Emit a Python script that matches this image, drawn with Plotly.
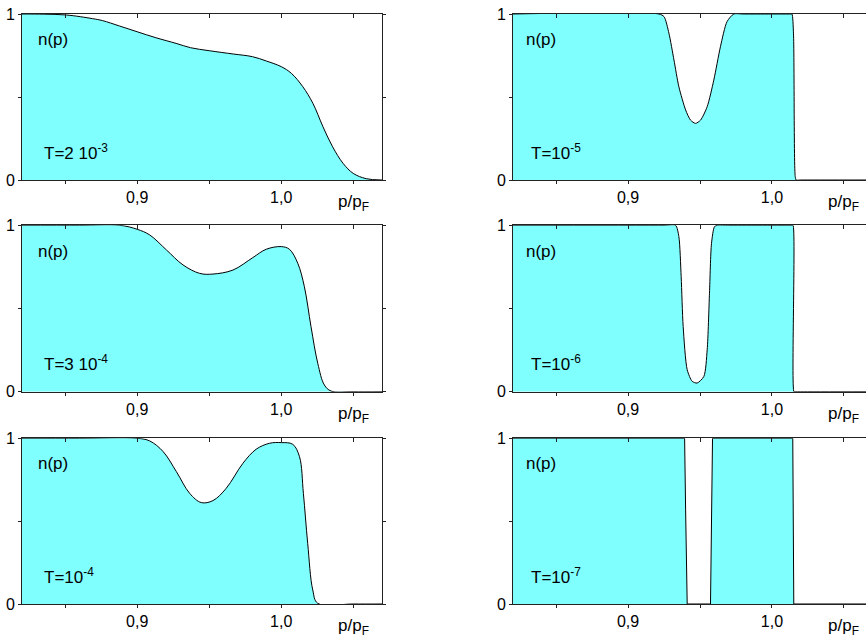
import plotly.graph_objects as go

# ---------------- data ----------------
x_t2e3 = [0.82, 0.835, 0.851, 0.869, 0.876, 0.8876, 0.9, 0.913, 0.927, 0.937, 0.95, 0.9667, 0.98,
          0.9896, 1.0, 1.007, 1.015, 1.022, 1.029, 1.0357, 1.043, 1.05, 1.059, 1.07]
n_t2e3 = [1.0, 0.999, 0.994, 0.972, 0.96, 0.928, 0.893, 0.857, 0.823, 0.797, 0.779, 0.759, 0.743,
          0.717, 0.683, 0.643, 0.562, 0.462, 0.321, 0.2, 0.1, 0.04, 0.008, 0.0]

x_t3e4 = [0.82, 0.86, 0.888, 0.9, 0.9087, 0.9203, 0.9318, 0.9434, 0.9526, 0.9665, 0.9803, 0.9896,
          1.0, 1.0057, 1.0115, 1.0161, 1.0207, 1.0254, 1.03, 1.0346, 1.05, 1.07]
n_t3e4 = [1.0, 1.0, 1.0, 0.976, 0.942, 0.852, 0.762, 0.711, 0.707, 0.731, 0.806, 0.856,
          0.872, 0.856, 0.772, 0.631, 0.391, 0.17, 0.04, 0.004, 0.0, 0.0]

x_t1e4 = [0.82, 0.86, 0.9, 0.9087, 0.918, 0.9272, 0.9364, 0.9445, 0.9526, 0.9618, 0.9734, 0.9826,
          0.9919, 1.0, 1.008, 1.0127, 1.0154, 1.0184, 1.0219, 1.0254, 1.05, 1.07]
n_t1e4 = [1.0, 1.0, 1.0, 0.984, 0.92, 0.799, 0.668, 0.612, 0.624, 0.698, 0.849, 0.934,
          0.97, 0.974, 0.964, 0.889, 0.668, 0.366, 0.085, 0.004, 0.0, 0.0]

x_t1e5 = [0.82, 0.9215, 0.925, 0.9284, 0.9319, 0.9353, 0.94, 0.9434, 0.9469, 0.9504, 0.955, 0.9596,
          0.9642, 0.9688, 0.9735, 0.98, 1.013, 1.0139, 1.015, 1.0162, 1.0169, 1.02, 1.0654]
n_t1e5 = [1.0, 1.0, 0.984, 0.884, 0.723, 0.562, 0.422, 0.361, 0.341, 0.361, 0.442, 0.602,
          0.803, 0.954, 1.0, 1.0, 1.0, 1.0, 0.88, 0.02, 0.0, 0.0, 0.0]

x_t1e6 = [0.82, 0.925, 0.933, 0.9353, 0.9369, 0.9383, 0.9411, 0.9446, 0.948, 0.9527, 0.955, 0.9566,
          0.958, 0.9601, 0.962, 0.97, 1.014, 1.0147, 1.0153, 1.016, 1.02, 1.0654]
n_t1e6 = [1.0, 1.0, 1.0, 0.932, 0.692, 0.392, 0.132, 0.062, 0.052, 0.092, 0.252, 0.592,
          0.892, 0.992, 1.0, 1.0, 1.0, 1.0, 0.0, 0.0, 0.0, 0.0]

x_t1e7 = [0.82, 0.9393, 0.94, 0.9411, 0.9573, 0.958, 0.9587, 1.0145, 1.0152, 1.0654]
n_t1e7 = [1.0, 1.0, 0.568, 0.0, 0.0, 0.568, 1.0, 1.0, 0.0, 0.0]

temp_labels = ["T=2 10<sup>-3</sup>", "T=10<sup>-5</sup>",
               "T=3 10<sup>-4</sup>", "T=10<sup>-6</sup>",
               "T=10<sup>-4</sup>", "T=10<sup>-7</sup>"]

x_major_vals = [0.9, 1.0]
x_major_text = ["0,9", "1,0"]
x_minor_vals = [0.85, 0.95, 1.05]
x_all_vals = [0.85, 0.9, 0.95, 1.0, 1.05]
y_major_vals = [0, 1]
y_major_text = ["0", "1"]
y_minor_vals = [0.5]

# ---------------- layout geometry ----------------
W, H = 866, 639
col_px = [(22, 382), (513, 866)]
row_px = [(14, 180), (225.3, 391.7), (438.3, 604)]
x_ranges = [[0.82, 1.07], [0.82, 1.0654]]

panels = [
    (x_t2e3, n_t2e3, "spline", 1.0), (x_t1e5, n_t1e5, "spline", 0.7),
    (x_t3e4, n_t3e4, "spline", 1.0), (x_t1e6, n_t1e6, "spline", 0.7),
    (x_t1e4, n_t1e4, "spline", 1.0), (x_t1e7, n_t1e7, "linear", 0),
]

FONT = "Liberation Sans, Arial, sans-serif"
AX = "#222222"

fig = go.Figure()
layout = dict(
    width=W, height=H, margin=dict(l=0, r=0, t=0, b=0, autoexpand=False),
    paper_bgcolor="white", plot_bgcolor="white", showlegend=False,
    font=dict(family=FONT, size=16, color="black"),
)
annotations = []


def tick_only_x(overlay, anchor, rng, side, direction, vals):
    return dict(overlaying=overlay, side=side, anchor=anchor, range=rng, showgrid=False,
                zeroline=False, showline=False, ticks=direction, ticklen=4 if side == "top" else 3,
                tickcolor=AX, tickwidth=1, automargin=False, tickmode="array",
                tickvals=vals, showticklabels=False)


for i, (xs, ys, shape, sm) in enumerate(panels):
    k = i + 1
    r, c = divmod(i, 2)
    x0, x1 = col_px[c]
    ytop, ybot = row_px[r]
    xd = [x0 / W, min(x1 / W, 1.0)]
    yd = [1 - ybot / H, 1 - ytop / H]
    xn = "x" if k == 1 else f"x{k}"
    yn = "y" if k == 1 else f"y{k}"
    line = dict(color="black", width=1, shape=shape)
    if shape == "spline":
        line["smoothing"] = sm
    fig.add_trace(go.Scatter(x=xs, y=ys, mode="lines", fill="tozeroy", fillcolor="#80ffff",
                             line=line, xaxis=xn, yaxis=yn, hoverinfo="skip"))

    layout[f"xaxis{k}" if k > 1 else "xaxis"] = dict(
        domain=xd, anchor=yn, range=x_ranges[c], showgrid=False, zeroline=False,
        automargin=False,
        showline=True, linecolor=AX, linewidth=1, mirror=True,
        ticks="outside", ticklen=3, tickcolor=AX, tickwidth=1,
        tickmode="array", tickvals=x_major_vals, ticktext=x_major_text,
        tickfont=dict(family=FONT, size=16, color="black"),
    )
    layout[f"yaxis{k}" if k > 1 else "yaxis"] = dict(
        domain=yd, anchor=xn, range=[0, 1], showgrid=False, zeroline=False,
        automargin=False,
        showline=True, linecolor=AX, linewidth=1, mirror=("ticks" if c == 0 else False),
        ticks="outside", ticklen=3, tickcolor=AX, tickwidth=1,
        tickmode="array", tickvals=y_major_vals, ticktext=y_major_text,
        tickfont=dict(family=FONT, size=16, color="black"),
    )
    # overlay axes carrying label-less ticks
    kt, kb, ky = 6 + k, 12 + k, 18 + k
    layout[f"xaxis{kt}"] = tick_only_x(xn, yn, x_ranges[c], "top", "inside", x_all_vals)
    layout[f"xaxis{kb}"] = tick_only_x(xn, yn, x_ranges[c], "bottom", "outside", x_minor_vals)
    layout[f"yaxis{ky}"] = dict(
        overlaying=yn, side="left", anchor=xn, range=[0, 1], showgrid=False, zeroline=False,
        showline=False, ticks="outside", ticklen=3, tickcolor=AX, tickwidth=1,
        mirror=("ticks" if c == 0 else False), automargin=False, tickmode="array",
        tickvals=y_minor_vals, showticklabels=False,
    )
    for xa, ya in ((f"x{kt}", yn), (f"x{kb}", yn), (xn, f"y{ky}")):
        fig.add_trace(go.Scatter(x=[], y=[], xaxis=xa, yaxis=ya, showlegend=False,
                                 hoverinfo="skip"))

    annotations.append(dict(text="n(p)", xref=f"{xn} domain", yref=f"{yn} domain",
                            x=0.04 if c == 0 else 0.032, y=0.845, xanchor="left",
                            yanchor="middle", showarrow=False,
                            font=dict(family=FONT, size=17, color="black")))
    annotations.append(dict(text=temp_labels[i], xref=f"{xn} domain", yref=f"{yn} domain",
                            x=0.055 if c == 0 else 0.045, y=0.17, xanchor="left",
                            yanchor="middle", showarrow=False,
                            font=dict(family=FONT, size=17, color="black")))
    annotations.append(dict(text="p/p<sub>F</sub>", xref=xn, yref=f"{yn} domain",
                            x=1.05, y=-0.14, xanchor="center", yanchor="middle",
                            showarrow=False, font=dict(family=FONT, size=17, color="black")))

layout["annotations"] = annotations
fig.update_layout(**layout)
fig.write_html("out.html", config={"displayModeBar": False},
               post_script="document.body.style.margin='0px';")
